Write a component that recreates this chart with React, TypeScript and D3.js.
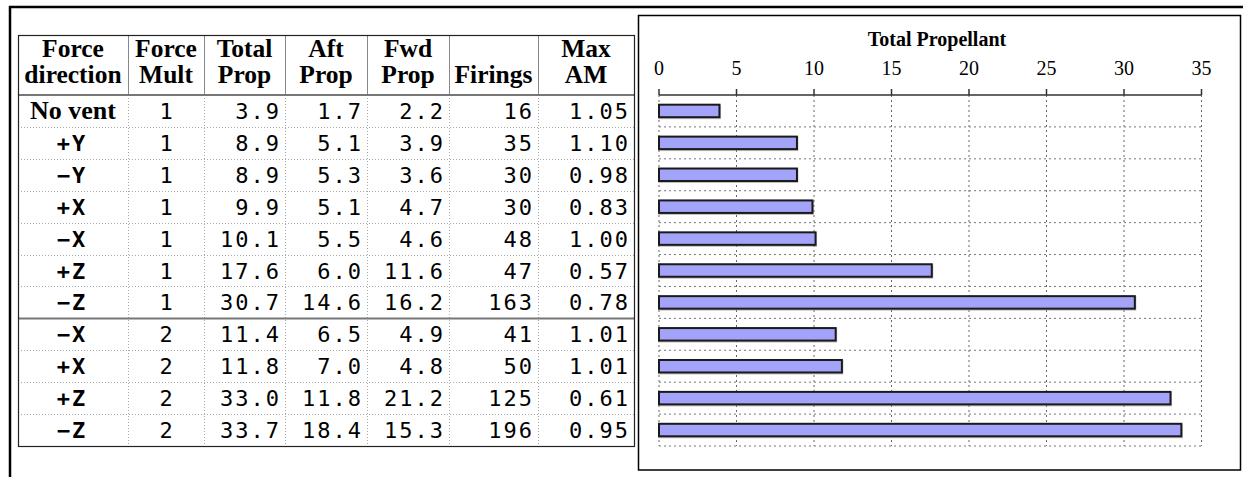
import React from "react";
import * as d3 from "d3";

const directions = ["No vent", "+Y", "−Y", "+X", "−X", "+Z", "−Z", "−X", "+X", "+Z", "−Z"];
const forceMult = [1, 1, 1, 1, 1, 1, 1, 2, 2, 2, 2];
const totalProp = [3.9, 8.9, 8.9, 9.9, 10.1, 17.6, 30.7, 11.4, 11.8, 33.0, 33.7];
const aftProp = [1.7, 5.1, 5.3, 5.1, 5.5, 6.0, 14.6, 6.5, 7.0, 11.8, 18.4];
const fwdProp = [2.2, 3.9, 3.6, 4.7, 4.6, 11.6, 16.2, 4.9, 4.8, 21.2, 15.3];
const firings = [16, 35, 30, 30, 48, 47, 163, 41, 50, 125, 196];
const maxAM = [1.05, 1.1, 0.98, 0.83, 1.0, 0.57, 0.78, 1.01, 1.01, 0.61, 0.95];
const headerLine1 = ["Force", "Force", "Total", "Aft", "Fwd", "", "Max"];
const headerLine2 = ["direction", "Mult", "Prop", "Prop", "Prop", "Firings", "AM"];
const chartTitle = "Total Propellant";
const xDomain = [0, 35];

const SERIF = "'Liberation Serif', 'Times New Roman', serif";
const MONO = "'DejaVu Sans Mono', monospace";

export default function App() {
  const colEdges = [18, 128, 204, 285, 367, 449, 538, 634];
  const tableTop = 35;
  const headerBottom = 95;
  const tableBottom = 446;
  const idx = directions.map((_, i) => i);
  const y = d3.scaleBand<number>().domain(idx).range([headerBottom, tableBottom]).padding(0);
  const x = d3.scaleLinear().domain(xDomain).range([659, 1201.5]);
  const ticks = x.ticks(7);
  const barH = 12.5;
  const ls = 2;

  const colCenter = (c: number) => (colEdges[c] + colEdges[c + 1]) / 2;
  const colRight = (c: number) => colEdges[c + 1] - 6 + ls;

  const numCols: [number, (i: number) => string][] = [
    [2, (i) => totalProp[i].toFixed(1)],
    [3, (i) => aftProp[i].toFixed(1)],
    [4, (i) => fwdProp[i].toFixed(1)],
    [5, (i) => String(firings[i])],
    [6, (i) => maxAM[i].toFixed(2)],
  ];

  return (
    <svg
      width={1243}
      height={477}
      style={{ position: "absolute", left: 0, top: 0, background: "#fff" }}
    >
      <rect x={0} y={0} width={1243} height={477} fill="#fff" />
      {/* outer frame */}
      <line x1={9} x2={1243} y1={7} y2={7} stroke="#000" strokeWidth={2.5} />
      <line x1={10} x2={10} y1={6} y2={477} stroke="#000" strokeWidth={2.5} />

      {/* TABLE */}
      <g>
        {colEdges.slice(1, -1).map((cx, k) => (
          <line key={"bv" + k} x1={cx + 0.5} x2={cx + 0.5} y1={headerBottom} y2={tableBottom}
            stroke="#aaa" strokeWidth={1} strokeDasharray="1,2" />
        ))}
        {colEdges.slice(1, -1).map((cx, k) => (
          <line key={"hv" + k} x1={cx + 0.5} x2={cx + 0.5} y1={tableTop} y2={headerBottom}
            stroke="#888" strokeWidth={1} />
        ))}
        {idx.slice(1).map((i) => (
          <line key={"rs" + i} x1={colEdges[0]} x2={colEdges[colEdges.length - 1]}
            y1={Math.round(y(i)!) + 0.5} y2={Math.round(y(i)!) + 0.5}
            stroke={i === 7 ? "#777" : "#aaa"} strokeWidth={i === 7 ? 1.8 : 1}
            strokeDasharray={i === 7 ? undefined : "1,2"} />
        ))}
        <line x1={colEdges[0]} x2={colEdges[colEdges.length - 1]} y1={headerBottom} y2={headerBottom}
          stroke="#777" strokeWidth={2} />
        <rect x={colEdges[0] + 0.5} y={tableTop + 0.5} width={colEdges[colEdges.length - 1] - colEdges[0]}
          height={tableBottom - tableTop} fill="none" stroke="#222" strokeWidth={1.2} />

        {headerLine1.map((t, c) => (
          <text key={"h1" + c} x={colCenter(c)} y={57} textAnchor="middle"
            fontFamily={SERIF} fontWeight="bold" fontSize={25.5} fill="#000">{t}</text>
        ))}
        {headerLine2.map((t, c) => (
          <text key={"h2" + c} x={colCenter(c)} y={83} textAnchor="middle"
            fontFamily={SERIF} fontWeight="bold" fontSize={25.5} fill="#000">{t}</text>
        ))}

        {idx.map((i) => {
          const by = y(i)! + 24;
          return (
            <g key={"row" + i}>
              {i === 0 ? (
                <text x={colCenter(0)} y={by} textAnchor="middle" fontFamily={SERIF}
                  fontWeight="bold" fontSize={26} fill="#000">{directions[i]}</text>
              ) : (
                <text x={colCenter(0) + ls / 2 - 2} y={by} textAnchor="middle" fontFamily={MONO}
                  fontWeight="bold" fontSize={22} letterSpacing={ls} fill="#000">{directions[i]}</text>
              )}
              <text x={colCenter(1) + ls / 2} y={by} textAnchor="middle" fontFamily={MONO}
                fontSize={22} letterSpacing={ls} fill="#000">{forceMult[i]}</text>
              {numCols.map(([c, f]) => (
                <text key={c} x={colRight(c)} y={by} textAnchor="end" fontFamily={MONO}
                  fontSize={22} letterSpacing={ls} fill="#000">{f(i)}</text>
              ))}
            </g>
          );
        })}
      </g>

      {/* CHART */}
      <g>
        <rect x={638.5} y={15.5} width={602} height={454.5} fill="#fff" stroke="#000" strokeWidth={1.5} />
        <text x={937} y={46} textAnchor="middle" fontFamily={SERIF} fontWeight="bold"
          fontSize={20} fill="#000">{chartTitle}</text>
        {ticks.map((t) => (
          <line key={"vg" + t} x1={x(t)} x2={x(t)} y1={headerBottom} y2={y(idx.length - 1)! + y.bandwidth()}
            stroke="#666" strokeWidth={1} strokeDasharray="2,3" />
        ))}
        {idx.map((i) => (
          <line key={"hg" + i} x1={x(xDomain[0])} x2={x(xDomain[1])}
            y1={y(i)! + y.bandwidth()} y2={y(i)! + y.bandwidth()}
            stroke="#777" strokeWidth={1} strokeDasharray="2,3" />
        ))}
        <line x1={x(xDomain[0])} x2={x(xDomain[1])} y1={headerBottom} y2={headerBottom} stroke="#333" strokeWidth={1.5} />
        {ticks.map((t) => (
          <g key={"tk" + t}>
            <line x1={x(t)} x2={x(t)} y1={headerBottom} y2={headerBottom - 6} stroke="#333" strokeWidth={1.5} />
            <text x={x(t)} y={75} textAnchor="middle" fontFamily={SERIF} fontSize={20} fill="#000">{t}</text>
          </g>
        ))}
        {idx.map((i) => {
          const cy = y(i)! + y.bandwidth() / 2;
          return (
            <g key={"bar" + i}>
              <rect x={x(0) + 0.5} y={cy - barH / 2 + 1} width={x(totalProp[i]) - x(0)} height={barH}
                fill="none" stroke="#999" strokeWidth={2} opacity={0.6} />
              <rect x={x(0)} y={cy - barH / 2} width={x(totalProp[i]) - x(0)} height={barH}
                fill="#a3a3fa" stroke="#1a1a1a" strokeWidth={2} />
            </g>
          );
        })}
      </g>
    </svg>
  );
}
